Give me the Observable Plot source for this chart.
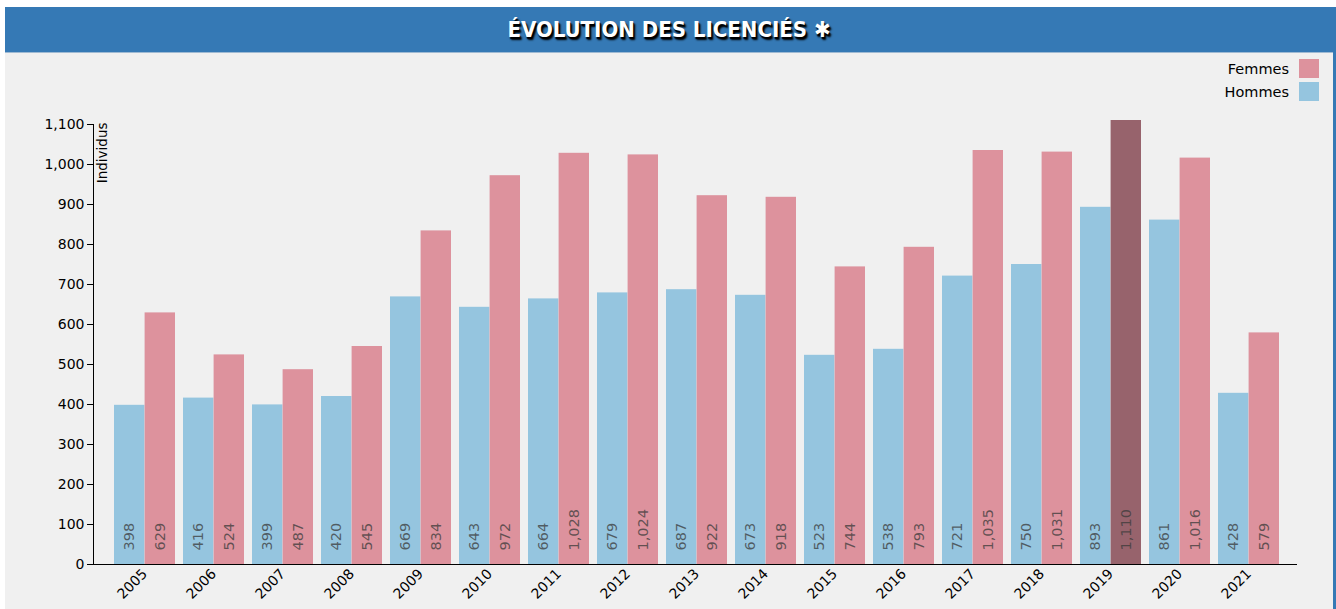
<!DOCTYPE html>
<html><head><meta charset="utf-8">
<script src="https://cdn.jsdelivr.net/npm/d3@7"></script>
<script src="https://cdn.jsdelivr.net/npm/@observablehq/plot@0.6"></script>
<style>
html,body{margin:0;padding:0;background:#fff;font-family:"DejaVu Sans",Verdana,sans-serif;overflow:hidden;}
#box{position:absolute;left:5px;top:7px;width:1328px;height:610px;background:#f0f0f0;border-right:3px solid #3579b5;}
#title{position:absolute;left:0;top:0;width:1328px;height:45px;background:#3579b5;border-bottom:1px solid #9fbad3;color:#fff;
  font-family:"DejaVu Sans Condensed","DejaVu Sans",sans-serif;font-stretch:condensed;font-weight:bold;font-size:22px;
  line-height:45px;text-align:center;text-shadow:2px 3px 2px #000, 1px 2px 1px #000;}
#chart{position:absolute;left:0;top:46px;}
#legend{position:absolute;right:14px;top:52px;font-size:14.5px;}
.li{display:flex;justify-content:flex-end;align-items:center;height:19px;margin-bottom:4px;}
.sw{width:20px;height:19px;margin-left:10px;}
</style></head>
<body>
<div id="box">
  <div id="title">ÉVOLUTION DES LICENCIÉS ✱</div>
  <div id="chart"></div>
  <div id="legend"></div>
</div>
<script>
const years = ["2005","2006","2007","2008","2009","2010","2011","2012","2013","2014","2015","2016","2017","2018","2019","2020","2021"];
const hommes = [398,416,399,420,669,643,664,679,687,673,523,538,721,750,893,861,428];
const femmes = [629,524,487,545,834,972,1028,1024,922,918,744,793,1035,1031,1110,1016,579];
const series = ["Femmes","Hommes"];
const colors = {Hommes:"#95c5df", Femmes:"#dd929d"};
const highlightColor = "#97636c";
const highlightYear = "2019";
const yTicks = [0,100,200,300,400,500,600,700,800,900,1000,1100];

const H = years.map((y,i)=>({year:y, sexe:"Hommes", value:hommes[i]}));
const F = years.map((y,i)=>({year:y, sexe:"Femmes", value:femmes[i]}));
const fmt = d3.format(",");

const chart = Plot.plot({
  width:1328, height:556,
  marginLeft:88, marginRight:36, marginTop:71, marginBottom:45,
  style:{background:"transparent", fontFamily:"DejaVu Sans, Verdana, sans-serif", fontSize:"14px", color:"#000", overflow:"visible"},
  x:{type:"band", domain:years, range:[103.7,1279], paddingInner:0.117, paddingOuter:0.0585, label:null},
  y:{domain:[0,1100], label:null},
  marks:[
    Plot.barY(H, {x:"year", y:"value", fill:colors.Hommes, insetRight:30.6}),
    Plot.barY(F, {x:"year", y:"value", fill:d => d.year===highlightYear ? highlightColor : colors.Femmes, insetLeft:30.6}),
    Plot.text(H, {x:"year", y:0, text:d=>fmt(d.value), rotate:-90, textAnchor:"start", lineAnchor:"middle", dy:-14, dx:-15.3, fill:"#3a3a3a", fillOpacity:0.75, fontSize:14.5}),
    Plot.text(F, {x:"year", y:0, text:d=>fmt(d.value), rotate:-90, textAnchor:"start", lineAnchor:"middle", dy:-14, dx:15.3, fill:"#3a3a3a", fillOpacity:0.75, fontSize:14.5}),
    Plot.ruleY([0], {stroke:"#000", strokeWidth:1.2}),
    Plot.frame({anchor:"left", stroke:"#000"}),
    Plot.axisY({ticks:yTicks, tickFormat:fmt, tickSize:6, tickPadding:3, fontSize:14}),
    Plot.axisX({tickSize:0, tickRotate:-45, tickPadding:7, fontSize:14}),
    Plot.text(["Individus"], {frameAnchor:"top-left", rotate:-90, textAnchor:"end", lineAnchor:"middle", dx:9, dy:-2, fontSize:13.5, fill:"#000"})
  ]
});
document.getElementById("chart").appendChild(chart);

const legend = document.getElementById("legend");
series.forEach(s=>{
  const row = document.createElement("div"); row.className="li";
  const t = document.createElement("span"); t.textContent = s;
  const sw = document.createElement("div"); sw.className="sw"; sw.style.background = colors[s];
  row.appendChild(t); row.appendChild(sw); legend.appendChild(row);
});
</script>
</body></html>
